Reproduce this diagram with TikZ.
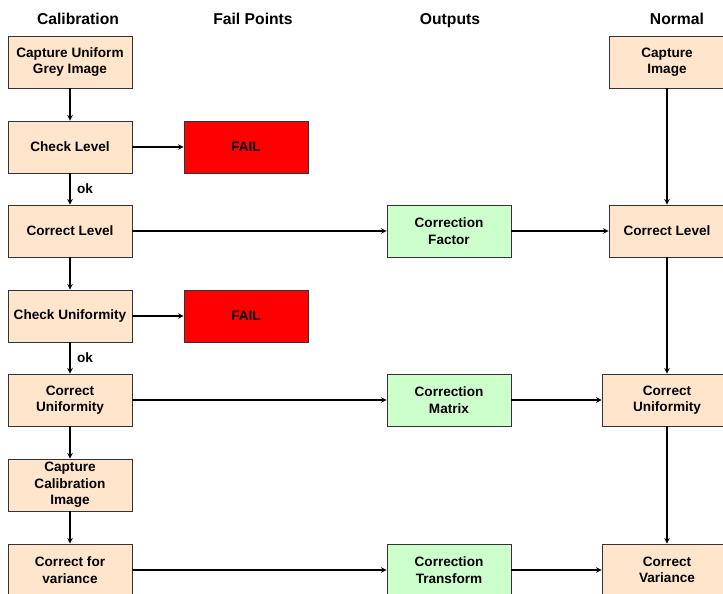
\documentclass[tikz,border=0pt]{standalone}
\usepackage{fontspec}
\setmainfont{Liberation Sans}
\begin{document}
\begin{tikzpicture}[
    x=1pt, y=-1pt,
    calbox/.style={rectangle, minimum width=124pt, minimum height=52pt, align=center, draw=black!80, line width=0.8pt, fill=orange!20, font=\fontsize{13.6}{16.5}\selectfont\bfseries, inner sep=1pt},
    failbox/.style={calbox, fill=red},
    outbox/.style={calbox, fill=green!20},
    normbox/.style={calbox, minimum width=116pt},
    header/.style={anchor=base, font=\fontsize{15.7}{18}\selectfont\bfseries},
    oklabel/.style={right, xshift=3pt, font=\fontsize{13.6}{16}\selectfont\bfseries},
    arrow/.style={line width=1.5pt,->,>=stealth}
]
\useasboundingbox (0,0) rectangle (723,594);

% Column headers
\node[header] (h1) at (78,25) {Calibration};
\node[header] (h2) at (253,25) {Fail Points};
\node[header] (h3) at (450,25) {Outputs};
\node[header] (h4) at (677,25) {Normal};

% Calibration steps
\node[calbox] (cal1) at (70,62) {Capture Uniform\\Grey Image};
\node[calbox] (cal2) at (70,147) {Check Level};
\node[calbox] (cal3) at (70,231) {Correct Level};
\node[calbox] (cal4) at (70,316) {Check Uniformity};
\node[calbox] (cal5) at (70,400) {Correct\\Uniformity};
\node[calbox] (cal6) at (70,485) {Capture\\Calibration\\Image};
\node[calbox] (cal7) at (70,570) {Correct for\\variance};

% Fail points
\node[failbox] (fail1) at (246,147) {FAIL};
\node[failbox] (fail2) at (246,316) {FAIL};

% Outputs
\node[outbox] (out1) at (449,231) {Correction\\Factor};
\node[outbox] (out2) at (449,400) {Correction\\Matrix};
\node[outbox] (out3) at (449,570) {Correction\\Transform};

% Normal operation
\node[normbox] (norm1) at (667,62) {Capture\\Image};
\node[normbox] (norm2) at (667,231) {Correct Level};
\node[calbox, minimum width=130pt] (norm3) at (667,400) {Correct\\Uniformity};
\node[calbox, minimum width=130pt] (norm4) at (667,570) {Correct\\Variance};

% Calibration flow
\draw[arrow] (cal1) -- (cal2);
\draw[arrow] (cal2) -- node[oklabel] {ok} (cal3);
\draw[arrow] (cal3) -- (cal4);
\draw[arrow] (cal4) -- node[oklabel] {ok} (cal5);
\draw[arrow] (cal5) -- (cal6);
\draw[arrow] (cal6) -- (cal7);

% Fail arrows
\draw[arrow] (cal2) -- (fail1);
\draw[arrow] (cal4) -- (fail2);

% Outputs
\draw[arrow] (cal3) -- (out1);
\draw[arrow] (out1) -- (norm2);
\draw[arrow] (cal5) -- (out2);
\draw[arrow] (out2) -- (norm3);
\draw[arrow] (cal7) -- (out3);
\draw[arrow] (out3) -- (norm4);

% Normal flow
\draw[arrow] (norm1) -- (norm2);
\draw[arrow] (norm2) -- (norm3);
\draw[arrow] (norm3) -- (norm4);

\end{tikzpicture}
\end{document}
